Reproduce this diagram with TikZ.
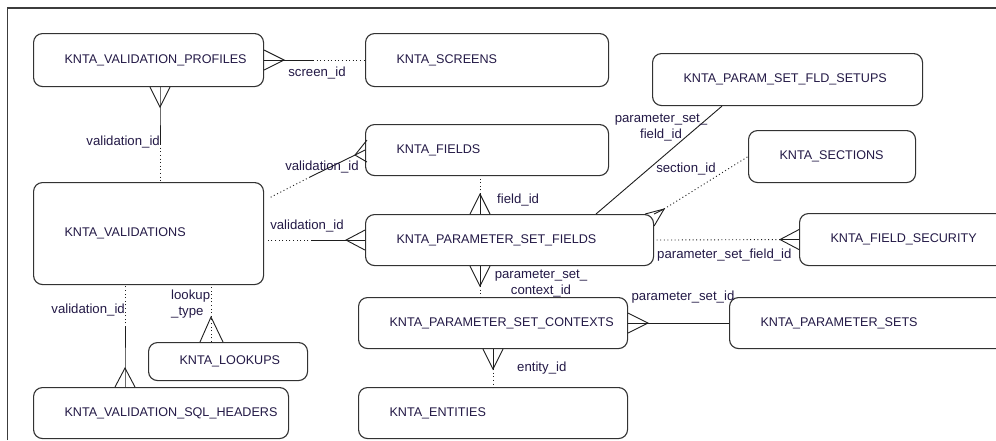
\documentclass[tikz,border=0pt]{standalone}
\usepackage{fontspec}
\setmainfont{Liberation Sans}
\usetikzlibrary{calc}
\definecolor{boxc}{RGB}{50,50,50}
\definecolor{txtc}{RGB}{35,25,70}
\definecolor{relc}{RGB}{30,30,30}
\definecolor{framec}{RGB}{60,60,60}
\tikzset{
 ent/.style={draw=boxc, line width=1.1pt, rounded corners=9pt, inner xsep=31pt, inner ysep=0pt, align=left, text=txtc, font=\fontsize{12.6}{15}\selectfont, anchor=north west},
 rel/.style={draw=relc, line width=0.9pt},
 opt/.style={draw=relc, line width=0.9pt, dash pattern=on 1pt off 2.6pt},
 lbl/.style={text=txtc, font=\fontsize{13.2}{16}\selectfont, inner sep=0pt},
}
\newcommand\crowv[2]{\draw[rel] ($(#1)+(0,-10)$) -- (#2) -- ($(#1)+(0,10)$);}
\newcommand\crowh[2]{\draw[rel] ($(#1)+(-10,0)$) -- (#2) -- ($(#1)+(10,0)$);}
\begin{document}
\begin{tikzpicture}[x=1pt,y=-1pt]
\clip (0,0) rectangle (996,440);
\fill[white] (0,0) rectangle (996,440);
\draw[framec, line width=1.3pt] (7.5,440) -- (7.5,8) -- (996,8);
% entities
\node[ent, text width=168, minimum height=53] (prof) at (33,33) {KNTA\_VALIDATION\_PROFILES};
\node[ent, text width=181, minimum height=53] (scr) at (365,33) {KNTA\_SCREENS};
\node[ent, text width=181, minimum height=51] (fld) at (365,124) {KNTA\_FIELDS};
\node[ent, text width=208, minimum height=52] (setups) at (652,53) {KNTA\_PARAM\_SET\_FLD\_SETUPS};
\node[ent, text width=105, minimum height=52] (sect) at (748,130) {KNTA\_SECTIONS};
\node[ent, text width=168, minimum height=102] (val) at (33,182) {KNTA\_VALIDATIONS};
\node[ent, text width=97, minimum height=38] (look) at (148,342) {KNTA\_LOOKUPS};
\node[ent, text width=193, minimum height=51] (sql) at (33,387) {KNTA\_VALIDATION\_SQL\_HEADERS};
\node[ent, text width=226, minimum height=51] (psf) at (365,214) {KNTA\_PARAMETER\_SET\_FIELDS};
\node[ent, text width=207, minimum height=51] (ctx) at (358,297) {KNTA\_PARAMETER\_SET\_CONTEXTS};
\node[ent, text width=207, minimum height=51] (ent) at (358,387) {KNTA\_ENTITIES};
\node[ent, text width=198, minimum height=52] (fsec) at (799,213) {KNTA\_FIELD\_SECURITY};
\node[ent, text width=238, minimum height=51] (psets) at (729,297) {KNTA\_PARAMETER\_SETS};
% A profiles - screens
\coordinate (aA) at ($(prof.east)+(20,0)$);
\coordinate (mA) at ($(prof.east)+(49,0)$);
\draw[rel] (prof.east) -- (aA) -- (mA);
\draw[opt] (mA) -- (scr.west);
\crowv{prof.east}{aA}
\node[lbl] (lA) at (317,73) {screen\_id};
% B profiles - validations
\coordinate (pB) at (160,0 |- prof.south);
\coordinate (aB) at ($(pB)+(0,20)$);
\coordinate (mB) at ($(pB)+(0,57)$);
\draw[rel] (pB) -- (aB) -- (mB);
\draw[opt] (mB) -- (mB |- val.north);
\crowh{pB}{aB}
\node[lbl, anchor=east] (lB) at (160,142) {validation\_id};
% C validations - fields
\coordinate (aC) at ($(fld.west)+(-10,5)$);
\coordinate (mC) at (310,177);
\coordinate (sC) at ($(val.north east)+(5,16)$);
\draw[rel] (fld.west) -- (aC) -- (mC);
\draw[opt] (mC) -- (sC);
\draw[rel] ($(fld.west)+(2,-10)$) -- (aC) -- ($(fld.west)+(2,12)$);
\node[lbl] (lC) at (322,167) {validation\_id};
% D validations - parameter set fields
\coordinate (aD) at ($(psf.west)+(-19,0)$);
\coordinate (mD) at ($(psf.west)+(-53,0)$);
\coordinate (sD) at ($(psf.west)+(-97,0)$);
\draw[rel] (psf.west) -- (aD) -- (mD);
\draw[opt] (mD) -- (sD);
\crowv{psf.west}{aD}
\node[lbl] (lD) at (307,226) {validation\_id};
% E fields - parameter set fields
\coordinate (pE) at (480,0 |- psf.north);
\coordinate (aE) at ($(pE)+(0,-20)$);
\draw[rel] (pE) -- (aE);
\draw[opt] (aE) -- (aE |- fld.south);
\crowh{pE}{aE}
\node[lbl, anchor=west] (lE) at (497,200) {field\_id};
% F psf - setups
\draw[rel] (596,0 |- psf.north) -- (722,0 |- setups.south);
\node[lbl, align=center] (lF) at (661,128) {parameter\_set\_\\field\_id};
% G psf - sections
\coordinate (aG) at ($(psf.north east)+(10,-5)$);
\draw[rel] (psf.north east) -- (aG);
\draw[rel] ($(psf.north east)+(-9,0)$) -- (aG) -- ($(psf.north east)+(0,12)$);
\draw[opt] (aG) -- (sect.west);
\node[lbl] (lG) at (686,169) {section\_id};
% H psf - field security
\coordinate (aH) at ($(fsec.west)+(-19,0)$);
\draw[rel] (fsec.west) -- (aH);
\crowv{fsec.west}{aH}
\draw[opt] (aH) -- (psf.east);
\node[lbl, anchor=west] (lH) at (657,255) {parameter\_set\_field\_id};
% I psf - contexts
\coordinate (pI) at (480,0 |- psf.south);
\coordinate (aI) at ($(pI)+(0,20)$);
\draw[rel] (pI) -- (aI);
\crowh{pI}{aI}
\draw[opt] (aI) -- (aI |- ctx.north);
\node[lbl, align=center] (lI) at (541,284) {parameter\_set\_\\context\_id};
% J contexts - parameter sets
\coordinate (aJ) at ($(ctx.east)+(20,0)$);
\draw[rel] (ctx.east) -- (aJ) -- (psets.west);
\crowv{ctx.east}{aJ}
\node[lbl] (lJ) at (683,297) {parameter\_set\_id};
% K contexts - entities
\coordinate (pK) at (493,0 |- ctx.south);
\coordinate (aK) at ($(pK)+(0,20)$);
\draw[rel] (pK) -- (aK);
\crowh{pK}{aK}
\draw[opt] (aK) -- (aK |- ent.north);
\node[lbl, anchor=west] (lK) at (517,368) {entity\_id};
% L validations - sql headers
\coordinate (pL) at (125,0 |- sql.north);
\coordinate (aL) at ($(pL)+(0,-19)$);
\coordinate (mL) at ($(pL)+(0,-60)$);
\draw[rel] (pL) -- (aL) -- (mL);
\crowh{pL}{aL}
\draw[opt] (mL) -- (mL |- val.south);
\node[lbl, anchor=east] (lL) at (125,310) {validation\_id};
% M validations - lookups
\coordinate (pM) at (211,0 |- look.north);
\coordinate (aM) at ($(pM)+(0,-25)$);
\draw[opt] (pM) -- (pM |- val.south);
\draw[rel] ($(pM)+(-11,0)$) -- (aM) -- ($(pM)+(12,0)$);
\node[lbl, align=left, anchor=west] (lM) at (171,304) {lookup\\\_type};
\end{tikzpicture}
\end{document}
